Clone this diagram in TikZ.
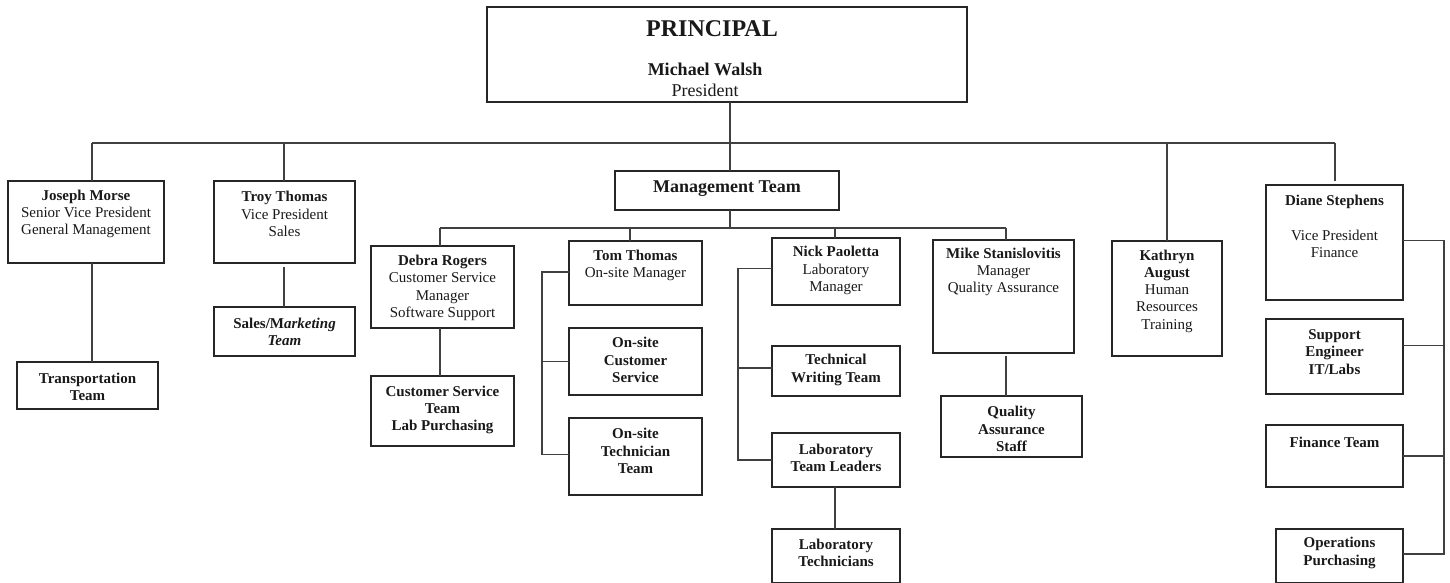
\documentclass[tikz,border=0pt]{standalone}
\usepackage{fontspec}
\setmainfont{Liberation Serif}
\tikzset{
  box/.style={draw=black!85, line width=1.2pt, inner sep=0pt, outer sep=0pt, fill=none},
  txt/.style={align=center, inner sep=0pt, font=\fontsize{15}{17.25}\selectfont, text=black!90},
  conn/.style={draw=black!75, line width=1.2pt},
}
\newcommand\obox[5]{%
  \node[box, minimum width={(#4-#2)*1pt}, minimum height={(#5-#3)*1pt}] (#1) at ({(#2+#4)/2},{(#3+#5)/2}) {};}
\begin{document}
\begin{tikzpicture}[x=1pt,y=-1pt]
\useasboundingbox (0,0) rectangle (1450,583);
% boxes
\obox{pr}{487}{7}{967}{102}
\obox{mt}{615}{171}{839}{210}
\obox{jm}{8}{181}{164}{263}
\obox{tr}{17}{362}{158}{409}
\obox{tt}{214}{181}{355}{263}
\obox{sm}{214}{307}{355}{356}
\obox{dr}{371}{246}{514}{328}
\obox{cst}{371}{376}{514}{446}
\obox{to}{569}{241}{702}{305}
\obox{ocs}{569}{328}{702}{395}
\obox{ott}{569}{418}{702}{495}
\obox{np}{772}{238}{900}{305}
\obox{twt}{772}{346}{900}{396}
\obox{ltl}{772}{433}{900}{487}
\obox{lt}{772}{529}{900}{583}
\obox{ms}{933}{240}{1074}{353}
\obox{qa}{941}{396}{1082}{457}
\obox{ka}{1112}{241}{1222}{356}
\obox{ds}{1266}{185}{1403}{300}
\obox{se}{1266}{319}{1403}{394}
\obox{ft}{1266}{425}{1403}{487}
\obox{op}{1276}{529}{1403}{583}
% texts
\node[txt, font=\fontsize{24}{28}\selectfont\bfseries] (pr-t) at (712,29) {PRINCIPAL};
\node[txt, font=\fontsize{18}{21}\selectfont] (pr-n) at (705,80) {\textbf{Michael Walsh}\\President};
\node[txt, font=\fontsize{18}{21}\selectfont\bfseries] (mt-t) at (727,189) {Management Team};
\node[txt] (jm-t) at (86,214) {\textbf{Joseph Morse}\\Senior Vice President\\General Management};
\node[txt] (tr-t) at (87.5,387) {\textbf{Transportation}\\\textbf{Team}};
\node[txt] (tt-t) at (284.5,214) {\textbf{Troy Thomas}\\Vice President\\Sales};
\node[txt] (sm-t) at (284.5,332) {\textbf{Sales/M\textit{arketing}}\\\textbf{\textit{Team}}};
\node[txt] (dr-t) at (442.5,288) {\textbf{Debra Rogers}\\Customer Service\\Manager\\Software Support};
\node[txt] (cst-t) at (442.5,410) {\textbf{Customer Service}\\\textbf{Team}\\\textbf{Lab Purchasing}};
\node[txt] (to-t) at (635.5,265.5) {\textbf{Tom Thomas}\\On-site Manager};
\node[txt] (ocs-t) at (635.5,360) {\textbf{On-site}\\\textbf{Customer}\\\textbf{Service}};
\node[txt] (ott-t) at (635.5,451) {\textbf{On-site}\\\textbf{Technician}\\\textbf{Team}};
\node[txt] (np-t) at (836,270.5) {\textbf{Nick Paoletta}\\Laboratory\\Manager};
\node[txt] (twt-t) at (836,370) {\textbf{Technical}\\\textbf{Writing Team}};
\node[txt] (ltl-t) at (836,458) {\textbf{Laboratory}\\\textbf{Team Leaders}};
\node[txt] (lt-t) at (836,553) {\textbf{Laboratory}\\\textbf{Technicians}};
\node[txt] (ms-t) at (1003.5,272) {\textbf{Mike Stanislovitis}\\Manager\\Quality Assurance};
\node[txt] (qa-t) at (1011.5,429) {\textbf{Quality}\\\textbf{Assurance}\\\textbf{Staff}};
\node[txt] (ka-t) at (1167,291) {\textbf{Kathryn}\\\textbf{August}\\Human\\Resources\\Training};
\node[txt] (ds-t) at (1334.5,226.5) {\textbf{Diane Stephens}\\[17.25pt]Vice President\\Finance};
\node[txt] (se-t) at (1334.5,352) {\textbf{Support}\\\textbf{Engineer}\\\textbf{IT/Labs}};
\node[txt] (ft-t) at (1334.5,442) {\textbf{Finance Team}};
\node[txt] (op-t) at (1339.5,553) {\textbf{Operations}\\\textbf{Purchasing}};
% helper coordinates
\coordinate (bus) at (0,143);
\coordinate (mbus) at (0,228);
\coordinate (xjm) at (92,0);
\coordinate (xtt) at (284,0);
\coordinate (xpr) at (730,0);
\coordinate (xka) at (1167,0);
\coordinate (xds) at (1335,0);
\coordinate (xdr) at (440,0);
\coordinate (xto) at (630,0);
\coordinate (xnp) at (835,0);
\coordinate (xms) at (1006,0);
\coordinate (bk1) at (542,0);
\coordinate (bk2) at (738,0);
\coordinate (bk3) at (1444,0);
% connectors: top level
\draw[conn] (xpr |- pr.south) -- (xpr |- mt.north);
\draw[conn] (xjm |- bus) -- (xds |- bus);
\draw[conn] (xjm |- bus) -- (xjm |- jm.north);
\draw[conn] (xtt |- bus) -- (xtt |- tt.north);
\draw[conn] (xka |- bus) -- (xka |- ka.north);
\draw[conn, shorten >=4pt] (xds |- bus) -- (xds |- ds.north);
% left branches
\draw[conn] (xjm |- jm.south) -- (xjm |- tr.north);
\draw[conn, shorten <=4pt] (xtt |- tt.south) -- (xtt |- sm.north);
% management bus
\draw[conn] (xpr |- mt.south) -- (xpr |- mbus);
\draw[conn] (xdr |- mbus) -- (xms |- mbus);
\draw[conn] (xdr |- mbus) -- (xdr |- dr.north);
\draw[conn] (xto |- mbus) -- (xto |- to.north);
\draw[conn] (xnp |- mbus) -- (xnp |- np.north);
\draw[conn] (xms |- mbus) -- (xms |- ms.north);
\draw[conn] (xdr |- dr.south) -- (xdr |- cst.north);
% Tom Thomas group
\draw[conn] ([yshift=1pt]to.west) -- ([yshift=1pt]bk1 |- to.west) -- ([yshift=2pt]bk1 |- ott.west) -- ([yshift=2pt]ott.west);
\draw[conn] (ocs.west) -- (bk1 |- ocs.west);
% Nick group
\draw[conn] ([yshift=3pt]np.west) -- ([yshift=3pt]bk2 |- np.west) -- (bk2 |- ltl.west) -- (ltl.west);
\draw[conn] ([yshift=3pt]twt.west) -- ([yshift=3pt]bk2 |- twt.west);
\draw[conn] (xnp |- ltl.south) -- (xnp |- lt.north);
% QA
\draw[conn, shorten <=3pt] (xms |- ms.south) -- (xms |- qa.north);
% Finance group
\draw[conn] ([yshift=2pt]ds.east) -- ([yshift=2pt]bk3 |- ds.east) -- ([yshift=2pt]bk3 |- op.east) -- ([yshift=2pt]op.east);
\draw[conn] ([yshift=11pt]se.east) -- ([yshift=11pt]bk3 |- se.east);
\draw[conn] (ft.east) -- (bk3 |- ft.east);
\end{tikzpicture}
\end{document}
